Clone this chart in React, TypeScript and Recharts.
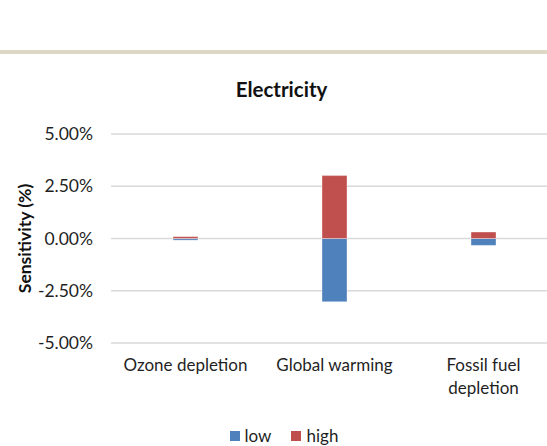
import React from "react";
import { Bar, BarChart, CartesianGrid, Legend, Text, XAxis, YAxis } from "recharts";

const FONT = "Lato, 'Noto Sans', sans-serif";

const categories = ["Ozone depletion", "Global warming", "Fossil fuel depletion"];
const lowValues = [-0.08, -3.03, -0.33];
const highValues = [0.09, 3.01, 0.31];
const yTicks = [-5, -2.5, 0, 2.5, 5];
const seriesNames = ["low", "high"];
const seriesColors = ["#4F81BD", "#C0504D"];

const data = categories.map((category, i) => ({
  category,
  low: lowValues[i],
  high: highValues[i],
}));

function CategoryTick(props: any) {
  const { x, y, payload } = props;
  return (
    <Text
      x={x}
      y={y + 2}
      width={132}
      textAnchor="middle"
      verticalAnchor="start"
      lineHeight={23}
      style={{ fontFamily: FONT, fontSize: 17, fill: "#1f1f1f" }}
    >
      {payload.value}
    </Text>
  );
}

function LegendContent(props: any) {
  const items = [...(props.payload || [])].sort(
    (a: any, b: any) => seriesNames.indexOf(a.value) - seriesNames.indexOf(b.value)
  );
  return (
    <div style={{ display: "flex", justifyContent: "center", gap: 20, fontFamily: FONT, fontSize: 17, color: "#1f1f1f" }}>
      {items.map((item: any) => (
        <span key={item.value} style={{ display: "inline-flex", alignItems: "center" }}>
          <span style={{ width: 10, height: 10, background: item.color, marginRight: 5, display: "inline-block" }} />
          {item.value}
        </span>
      ))}
    </div>
  );
}

export default function App() {
  return (
    <div style={{ position: "absolute", left: 0, top: 0, width: 547, height: 446, overflow: "hidden", background: "#fff" }}>
      <div style={{ position: "absolute", left: 0, top: 50, width: 547, height: 4, background: "#DDD8C6" }} />
      <div
        style={{
          position: "absolute",
          left: 0,
          top: 77,
          width: 563,
          textAlign: "center",
          fontFamily: FONT,
          fontWeight: 700,
          fontSize: 20.5,
          lineHeight: "24px",
          color: "#111",
        }}
      >
        Electricity
      </div>
      <div style={{ position: "absolute", left: 0, top: 0 }}>
        <BarChart
          width={562}
          height={446}
          data={data}
          stackOffset="sign"
          margin={{ top: 134, right: 4, bottom: 73, left: 21 }}
        >
          <CartesianGrid horizontal vertical={false} stroke="#d9d9d9" strokeWidth={1.3} />
          <XAxis
            dataKey="category"
            axisLine={false}
            tickLine={false}
            interval={0}
            height={30}
            tick={<CategoryTick />}
            tickMargin={8}
          />
          <YAxis
            type="number"
            domain={[-5, 5]}
            ticks={yTicks}
            interval={0}
            axisLine={false}
            tickLine={false}
            width={90}
            tickMargin={12}
            tickFormatter={(v: number) => `${v.toFixed(2)}%`}
            tick={{ fontFamily: FONT, fontSize: 17.5, fill: "#1f1f1f" }}
            label={{
              value: "Sensitivity (%)",
              angle: -90,
              position: "insideLeft",
              offset: 4,
              style: { textAnchor: "middle", fontFamily: FONT, fontSize: 17.5, fontWeight: 700, fill: "#111" },
            }}
          />
          <Legend
            verticalAlign="middle"
            content={<LegendContent />}
            wrapperStyle={{ top: 425, left: 3, width: 562 }}
          />
          {seriesNames.map((name, i) => (
            <Bar
              key={name}
              dataKey={name}
              name={name}
              stackId="a"
              fill={seriesColors[i]}
              stroke="rgba(255,255,255,0.6)"
              strokeWidth={0.6}
              barSize={25}
              isAnimationActive={false}
            />
          ))}
        </BarChart>
      </div>
    </div>
  );
}
